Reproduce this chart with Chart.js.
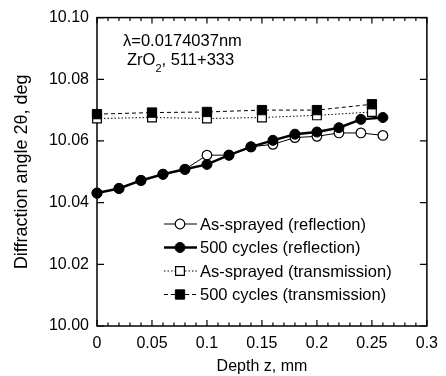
<!DOCTYPE html>
<html>
<head>
<meta charset="utf-8">
<script src="https://cdn.jsdelivr.net/npm/chart.js@4.4.1/dist/chart.umd.min.js"></script>
<style>
  body { margin: 0; background: #fff; }
  canvas { display: block; }
</style>
</head>
<body>
<canvas id="depth-chart" width="446" height="376"></canvas>
<script>
// Depth positions (mm)
const depthRefl = [0, 0.02, 0.04, 0.06, 0.08, 0.1, 0.12, 0.14, 0.16, 0.18, 0.2, 0.22, 0.24, 0.26];
const depthTrans = [0, 0.05, 0.1, 0.15, 0.2, 0.25];

// Diffraction angle 2θ (deg)
const asSprayedRefl = [10.0431, 10.0446, 10.0472, 10.0492, 10.0508, 10.0554, 10.0554, 10.0581, 10.0589, 10.0611, 10.0615, 10.0626, 10.0626, 10.0618];
const cycledRefl = [10.0431, 10.0446, 10.0472, 10.0492, 10.0508, 10.0524, 10.0554, 10.0581, 10.0602, 10.0622, 10.0629, 10.0643, 10.0670, 10.0676];
const asSprayedTrans = [10.0673, 10.0676, 10.0673, 10.0676, 10.0683, 10.0694];
const cycledTrans = [10.0687, 10.0692, 10.0694, 10.0700, 10.0700, 10.0719];

const seriesLabels = [
  "As-sprayed (reflection)",
  "500 cycles (reflection)",
  "As-sprayed (transmission)",
  "500 cycles (transmission)",
];

// Axis ticks
const xTickValues = [0, 0.05, 0.1, 0.15, 0.2, 0.25, 0.3];
const xTickLabels = ["0", "0.05", "0.1", "0.15", "0.2", "0.25", "0.3"];
const yTickValues = [10.0, 10.02, 10.04, 10.06, 10.08, 10.1];
const yTickLabels = ["10.00", "10.02", "10.04", "10.06", "10.08", "10.10"];

const FONT = "'Liberation Sans', Arial, Helvetica, sans-serif";

function toPoints(xs, ys) {
  return xs.map((x, i) => ({ x: x, y: ys[i] }));
}

// Draws a marker the same way for the plot legend
function drawMarker(ctx, style, x, y, r, fill) {
  ctx.beginPath();
  if (style === "rect") {
    const s = r * Math.SQRT1_2;
    ctx.rect(x - s, y - s, 2 * s, 2 * s);
  } else {
    ctx.arc(x, y, r, 0, Math.PI * 2);
  }
  ctx.fillStyle = fill;
  ctx.fill();
  ctx.stroke();
}

// Box frame with inward ticks on all four sides
const framePlugin = {
  id: "frame",
  beforeDatasetsDraw(chart) {
    const { ctx, chartArea: a, scales } = chart;
    ctx.save();
    ctx.strokeStyle = "#000";
    ctx.lineWidth = 1.5;
    ctx.strokeRect(a.left, a.top, a.right - a.left, a.bottom - a.top);

    ctx.lineWidth = 1.2;
    ctx.beginPath();
    for (let i = 0; i <= 30; i++) {
      const px = scales.x.getPixelForValue(i * 0.01);
      const len = i % 5 === 0 ? 6 : 3.5;
      ctx.moveTo(px, a.bottom);
      ctx.lineTo(px, a.bottom - len);
      ctx.moveTo(px, a.top);
      ctx.lineTo(px, a.top + len);
    }
    yTickValues.forEach((v) => {
      const py = scales.y.getPixelForValue(v);
      ctx.moveTo(a.left, py);
      ctx.lineTo(a.left + 7, py);
      ctx.moveTo(a.right, py);
      ctx.lineTo(a.right - 7, py);
    });
    ctx.stroke();
    ctx.restore();
  },
  afterDraw(chart) {
    const { ctx } = chart;
    ctx.save();
    ctx.fillStyle = "#000";
    ctx.textBaseline = "alphabetic";
    ctx.textAlign = "left";

    // annotation
    ctx.font = "16.5px " + FONT;
    ctx.fillText("\u03bb=0.0174037nm", 123, 46);
    ctx.fillText("ZrO", 127, 65);
    let w = ctx.measureText("ZrO").width;
    ctx.font = "11px " + FONT;
    ctx.fillText("2", 127 + w, 72);
    let w2 = ctx.measureText("2").width;
    ctx.font = "16.5px " + FONT;
    ctx.fillText(", 511+333", 127 + w + w2, 65);

    // legend
    const lx0 = 164, lx1 = 197, mx = 180, tx = 200;
    ctx.textBaseline = "middle";
    chart.data.datasets.forEach((ds, i) => {
      const y = 224 + i * 23.5;
      ctx.strokeStyle = "#000";
      ctx.lineWidth = ds.borderWidth;
      ctx.setLineDash(ds.borderDash || []);
      ctx.beginPath();
      ctx.moveTo(lx0, y);
      ctx.lineTo(lx1, y);
      ctx.stroke();
      ctx.setLineDash([]);
      ctx.lineWidth = ds.pointBorderWidth;
      drawMarker(ctx, ds.pointStyle, mx, y, ds.pointRadius, ds.pointBackgroundColor);
      ctx.fillStyle = "#000";
      ctx.font = "16.5px " + FONT;
      ctx.fillText(ds.label, tx, y + 1);
    });
    ctx.restore();
  },
};

let config = {
  type: "scatter",
  data: {
    datasets: [
      {
        label: seriesLabels[0],
        data: toPoints(depthRefl, asSprayedRefl),
        showLine: true,
        borderColor: "#000",
        borderWidth: 1,
        pointStyle: "circle",
        pointRadius: 4.8,
        pointBorderWidth: 1.2,
        pointBorderColor: "#000",
        pointBackgroundColor: "#fff",
        clip: false,
        order: 2,
      },
      {
        label: seriesLabels[1],
        data: toPoints(depthRefl, cycledRefl),
        showLine: true,
        borderColor: "#000",
        borderWidth: 2.5,
        pointStyle: "circle",
        pointRadius: 5,
        pointBorderWidth: 1,
        pointBorderColor: "#000",
        pointBackgroundColor: "#000",
        clip: false,
        order: 1,
      },
      {
        label: seriesLabels[2],
        data: toPoints(depthTrans, asSprayedTrans),
        showLine: true,
        borderColor: "#000",
        borderWidth: 1,
        borderDash: [1.5, 2],
        pointStyle: "rect",
        pointRadius: 6.2,
        pointBorderWidth: 1.2,
        pointBorderColor: "#000",
        pointBackgroundColor: "#fff",
        clip: false,
        order: 4,
      },
      {
        label: seriesLabels[3],
        data: toPoints(depthTrans, cycledTrans),
        showLine: true,
        borderColor: "#000",
        borderWidth: 1,
        borderDash: [4, 3],
        pointStyle: "rect",
        pointRadius: 6.6,
        pointBorderWidth: 1,
        pointBorderColor: "#000",
        pointBackgroundColor: "#000",
        clip: false,
        order: 3,
      },
    ],
  },
  options: {
    responsive: false,
    animation: false,
    layout: { padding: { left: 0, right: 14, top: 17, bottom: 0 } },
    plugins: {
      legend: { display: false },
      tooltip: { enabled: false },
    },
    scales: {
      x: {
        type: "linear",
        min: 0,
        max: 0.3,
        afterFit: (scale) => { scale.height = 50; },
        afterBuildTicks: (scale) => { scale.ticks = xTickValues.map((v) => ({ value: v })); },
        grid: { display: false, drawTicks: false },
        border: { display: false },
        ticks: {
          padding: 8,
          color: "#000",
          font: { family: FONT, size: 16 },
          maxRotation: 0,
          callback: (v, i) => xTickLabels[i],
        },
        title: {
          display: true,
          text: "Depth z, mm",
          color: "#000",
          font: { family: FONT, size: 16, lineHeight: 1 },
          padding: { top: 0, bottom: 1 },
        },
      },
      y: {
        type: "linear",
        min: 10.0,
        max: 10.1,
        afterFit: (scale) => { scale.width = 97; },
        afterBuildTicks: (scale) => { scale.ticks = yTickValues.map((v) => ({ value: v })); },
        grid: { display: false, drawTicks: false },
        border: { display: false },
        ticks: {
          padding: 8,
          color: "#000",
          font: { family: FONT, size: 16 },
          callback: (v, i) => yTickLabels[i],
        },
        title: {
          display: true,
          text: "Diffraction angle 2\u03b8, deg",
          color: "#000",
          font: { family: FONT, size: 18, lineHeight: 1 },
          padding: { top: 13, bottom: 0 },
        },
      },
    },
  },
  plugins: [framePlugin],
};

let ctx = document.getElementById("depth-chart").getContext("2d");
window.depthChart = new Chart(ctx, config);
</script>
</body>
</html>
